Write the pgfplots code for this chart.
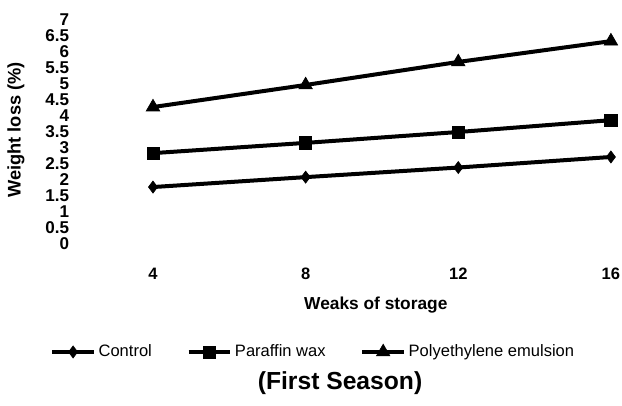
\documentclass[border=0pt]{standalone}
\usepackage{pgfplots}
\pgfplotsset{compat=1.18}
\usepackage{fontspec}
\setmainfont{Liberation Sans}
\begin{document}
\begin{tikzpicture}
\useasboundingbox (-57.5pt,-120.75pt) rectangle (409pt,183pt);
\begin{axis}[
  at={(0pt,0pt)}, anchor=south west,
  scale only axis,
  width=400.7pt, height=168pt,
  xmin=2, xmax=16, ymin=0, ymax=7,
  xtick={4,8,12,16},
  ytick={0,0.5,...,7},
  yticklabels={0,0.5,1,1.5,2,2.5,3,3.5,4,4.5,5,5.5,6,6.5,7},
  axis line style={draw=none},
  major tick style={draw=none},
  /pgf/number format/assume math mode=true,
  yticklabel style={font=\fontsize{12.8}{13}\selectfont\bfseries, inner sep=0.5pt, xshift=-5pt},
  xticklabel style={font=\fontsize{12.4}{13}\selectfont\bfseries, yshift=-14.5pt},
  xlabel={Weaks of storage},
  xlabel style={font=\fontsize{13}{14}\selectfont\bfseries, at={(axis description cs:0.56,-0.272)}, anchor=center},
  ylabel={Weight loss (\%)},
  ylabel style={font=\fontsize{13.7}{14}\selectfont\bfseries, at={(axis description cs:-0.1136,0.509)}, anchor=center, rotate=0},
  clip=false,
  legend columns=3,
  legend style={draw=none, fill=none, inner sep=0pt, font=\fontsize{12.4}{13}\selectfont,
    at={(axis description cs:-0.05,-0.482)}, anchor=west,
    /tikz/every even column/.append style={column sep=24pt}},
  legend image code/.code={\draw[mark repeat=2,mark phase=2,#1] plot coordinates {(0cm,0cm)(0.55cm,0cm)(1.1cm,0cm)};},
]
\addplot[black, line width=3pt, mark=diamond*, mark size=4.5pt, mark options={solid, line width=0.5pt}]
  coordinates {(4,1.78)(8,2.09)(12,2.39)(16,2.72)};
\addlegendentry{Control}
\addplot[black, line width=3pt, mark=square*, mark size=4.6pt, mark options={solid, line width=0.5pt}]
  coordinates {(4,2.84)(8,3.16)(12,3.5)(16,3.87)};
\addlegendentry{Paraffin wax}
\addplot[black, line width=3pt, mark=triangle*, mark size=5.8pt, mark options={solid, line width=0.5pt}]
  coordinates {(4,4.28)(8,4.97)(12,5.69)(16,6.34)};
\addlegendentry{Polyethylene emulsion}
\node[font=\fontsize{18.5}{20}\selectfont\bfseries] at (axis description cs:0.493,-0.62) {(First Season)};
\end{axis}
\end{tikzpicture}
\end{document}
